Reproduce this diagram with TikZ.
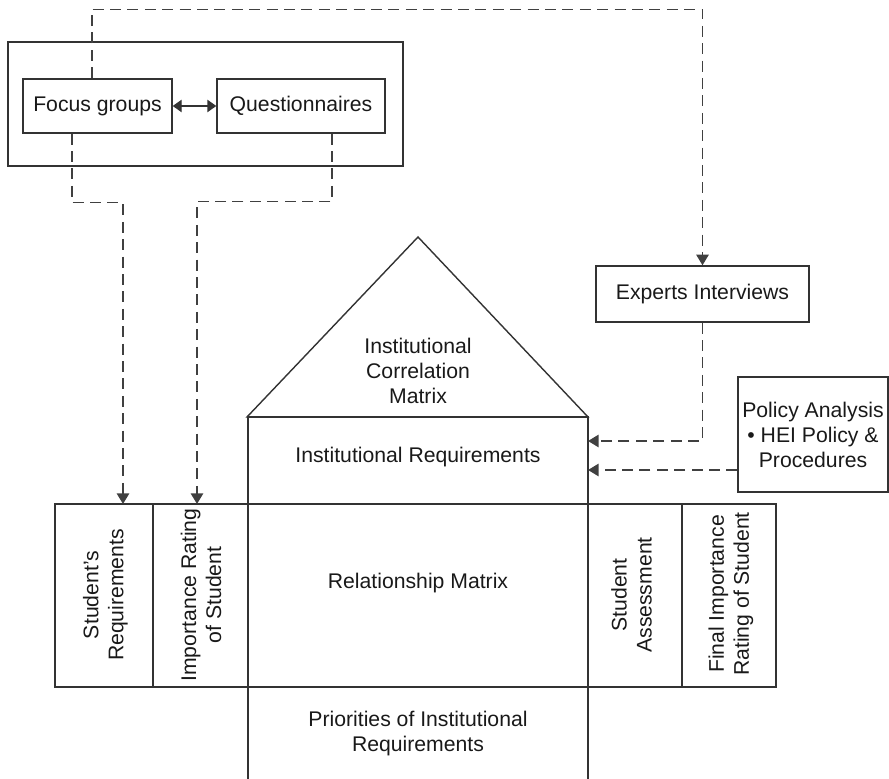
\documentclass[tikz,border=0pt]{standalone}
\usepackage{fontspec}
\setmainfont{Liberation Sans}
\usetikzlibrary{arrows.meta}
\usetikzlibrary{positioning}

\begin{document}
\begin{tikzpicture}[x=0.5pt,y=-0.5pt,line width=0.7pt,
    every node/.style={font=\fontsize{10.6}{12.5}\selectfont, text=black!90},
    box/.style={draw=black!80, inner sep=0pt, align=center},
    lbl/.style={align=center, inner sep=0pt},
    flow/.style={draw=black!75, dash pattern=on 5.5pt off 3.2pt, -{Triangle[length=5.3pt,width=6.2pt]}}]
    \useasboundingbox (0,0) rectangle (889,779);
    % sources of the requirements
    \draw[black!80] (8,42) rectangle (403,166);
    \node[box, minimum width=74.5pt, minimum height=27pt] (focus) at (97.5,106) {Focus groups};
    \node[box, minimum width=84pt, minimum height=27pt] (quest) at (301,106) {Questionnaires};
    \draw[black!80, {Triangle[length=4.5pt,width=6.2pt]}-{Triangle[length=4.5pt,width=6.2pt]}] (focus) -- (quest);
    \node[box, minimum width=106.5pt, minimum height=28pt] (experts) at (702.5,294) {Experts Interviews};
    \node[box, minimum width=75pt, minimum height=57.5pt] (policy) at (813,434.5) {Policy Analysis\\\textbullet\ HEI Policy \&\\Procedures};
    % house
    \draw[black!80] (247,417) -- (418,237) -- (588,417) -- cycle;
    \draw[black!80] (248,417) rectangle (588,504);
    \draw[black!80] (55,504) rectangle (776,687);
    \foreach \x in {153,682} \draw[black!80] (\x,504) -- (\x,687);
    \foreach \x in {248,588} \draw[black!80] (\x,504) -- (\x,779);
    \node[lbl] (corr) at (418,371) {Institutional\\Correlation\\Matrix};
    \node[lbl] (instreq) at (418,457) {Institutional Requirements};
    \node[lbl] (relmat) at (418,583) {Relationship Matrix};
    \node[lbl] (prio) at (418,734) {Priorities of Institutional\\Requirements};
    \node[lbl, rotate=90] (stureq) at (105.5,595) {Student’s\\Requirements};
    \node[lbl, rotate=90] (imprate) at (201,595) {Importance Rating\\of Student};
    \node[lbl, rotate=90] (stuass) at (631.5,595) {Student\\Assessment};
    \node[lbl, rotate=90] (finrate) at (731,594) {Final Importance\\Rating of Student};
    % connectors
    \coordinate (srin) at (123,504);
    \coordinate (irin) at (197,504);
    \coordinate (expin) at (588,441);
    \coordinate (polin) at (588,470);
    \draw[flow] ([xshift=-2.75pt]focus.north) -- ++(0,-69) -| (experts.north);
    \draw[flow] ([xshift=-12.75pt]focus.south) -- ++(0,69) -| (srin);
    \draw[flow] ([xshift=15.5pt]quest.south) -- ++(0,68) -| (irin);
    \draw[flow] (experts.south) |- (expin);
    \draw[flow] (policy.west |- polin) -- (polin);
\end{tikzpicture}
\end{document}
